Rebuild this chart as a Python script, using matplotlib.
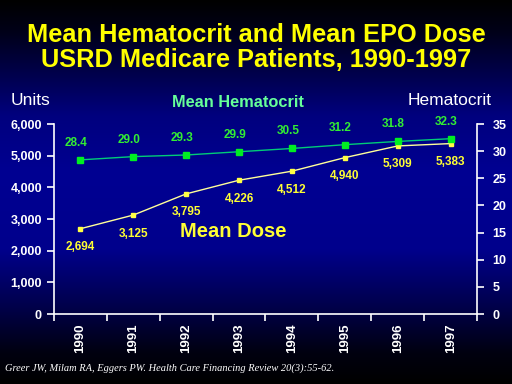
import numpy as np
import matplotlib
matplotlib.use("Agg")
from matplotlib import pyplot as plt
from matplotlib.colors import LinearSegmentedColormap

years = ['1990', '1991', '1992', '1993', '1994', '1995', '1996', '1997']
dose = [2694, 3125, 3795, 4226, 4512, 4940, 5309, 5383]
hct = [28.4, 29.0, 29.3, 29.9, 30.5, 31.2, 31.8, 32.3]
dose_ticks = [0, 1000, 2000, 3000, 4000, 5000, 6000]
hct_ticks = [0, 5, 10, 15, 20, 25, 30, 35]

plt.rcParams['font.family'] = ['Liberation Sans', 'DejaVu Sans']
narrow = ['Liberation Sans Narrow', 'Liberation Sans', 'DejaVu Sans']

fig = plt.figure(figsize=(5.12, 3.84), dpi=100)

# background gradient: black -> navy -> black
bg = fig.add_axes([0, 0, 1, 1])
cmap = LinearSegmentedColormap.from_list('bg', [
    (0.0, '#000000'), (0.08, '#000018'), (0.3, '#00007e'), (0.45, '#000092'),
    (0.65, '#00008c'), (0.8, '#00004a'), (0.92, '#000010'), (1.0, '#000000')])
bg.imshow(np.linspace(0, 1, 256).reshape(-1, 1), aspect='auto', cmap=cmap,
          extent=[0, 1, 0, 1])
bg.set_axis_off()

x = np.arange(len(years))
ax1 = fig.add_axes([0.105, 0.182, 0.827, 0.495])
ax1.patch.set_alpha(0)
ax1.plot(x, dose, color='#ffff99', lw=1, marker='s', ms=3,
         mfc='#ffff44', mec='#ffff44', zorder=3)
for xi, v in zip(x, dose):
    ax1.annotate(f'{v:,}', (xi, v), xytext=(0, -9), textcoords='offset points',
                 ha='center', va='top', color='#ffff33', fontsize=8.5,
                 fontweight='bold', family=narrow)
ax1.set_xlim(-0.5, 7.5)
ax1.set_ylim(0, 6000)
ax1.set_yticks(dose_ticks)
ax1.set_yticklabels([f'{v:,}' for v in dose_ticks])
ax1.set_xticks(x)
ax1.set_xticklabels(years, rotation=90)
ax1.set_xticks(np.arange(-0.5, 8, 1), minor=True)
ax1.tick_params(axis='x', which='major', length=0, pad=7)
ax1.tick_params(axis='x', which='minor', length=5, color='white', width=1.2)
ax1.tick_params(axis='y', length=5, color='white', width=1.2)
for lab in ax1.get_yticklabels():
    lab.set_color('white')
    lab.set_fontweight('bold')
    lab.set_fontsize(9)
for lab in ax1.get_xticklabels():
    lab.set_color('white')
    lab.set_fontweight('bold')
    lab.set_fontsize(9.5)
for s in ['top', 'right']:
    ax1.spines[s].set_visible(False)
for s in ['left', 'bottom']:
    ax1.spines[s].set_color('white')
    ax1.spines[s].set_linewidth(1.2)

ax2 = ax1.twinx()
ax2.plot(x, hct, color='#00cc77', lw=1, marker='s', ms=5,
         mfc='#00ee22', mec='#00ee22', zorder=3)
for xi, v in zip(x, hct):
    ax2.annotate(f'{v:.1f}', (xi, v), xytext=(-3, 8), textcoords='offset points',
                 ha='center', va='bottom', color='#33ee33', fontsize=8.5,
                 fontweight='bold', family=narrow)
ax2.set_ylim(0, 35)
ax2.set_yticks(hct_ticks)
ax2.tick_params(axis='y', length=5, color='white', width=1.2, pad=6)
for lab in ax2.get_yticklabels():
    lab.set_color('white')
    lab.set_fontweight('bold')
    lab.set_fontsize(9)
for s in ['top', 'left', 'bottom']:
    ax2.spines[s].set_visible(False)
ax2.spines['right'].set_color('white')
ax2.spines['right'].set_linewidth(1.2)

fig.text(0.5, 0.91, 'Mean Hematocrit and Mean EPO Dose', ha='center', va='center',
         color='#ffff00', fontsize=18.3, fontweight='bold')
fig.text(0.5, 0.843, 'USRD Medicare Patients, 1990-1997', ha='center', va='center',
         color='#ffff00', fontsize=18.3, fontweight='bold')
fig.text(0.02, 0.737, 'Units', ha='left', va='center', color='white', fontsize=12.5)
fig.text(0.797, 0.737, 'Hematocrit', ha='left', va='center', color='white', fontsize=12.5)
fig.text(0.336, 0.733, 'Mean Hematocrit', ha='left', va='center', color='#66ff99',
         fontsize=11.8, fontweight='bold')
fig.text(0.352, 0.396, 'Mean Dose', ha='left', va='center', color='#ffff33',
         fontsize=14.5, fontweight='bold')
fig.text(0.01, 0.042, 'Greer JW, Milam RA, Eggers PW. Health Care Financing Review 20(3):55-62.',
         ha='left', va='center', color='white', fontsize=7.5, style='italic',
         family=['Liberation Serif', 'DejaVu Serif'])

fig.savefig('out.png', dpi=100)
